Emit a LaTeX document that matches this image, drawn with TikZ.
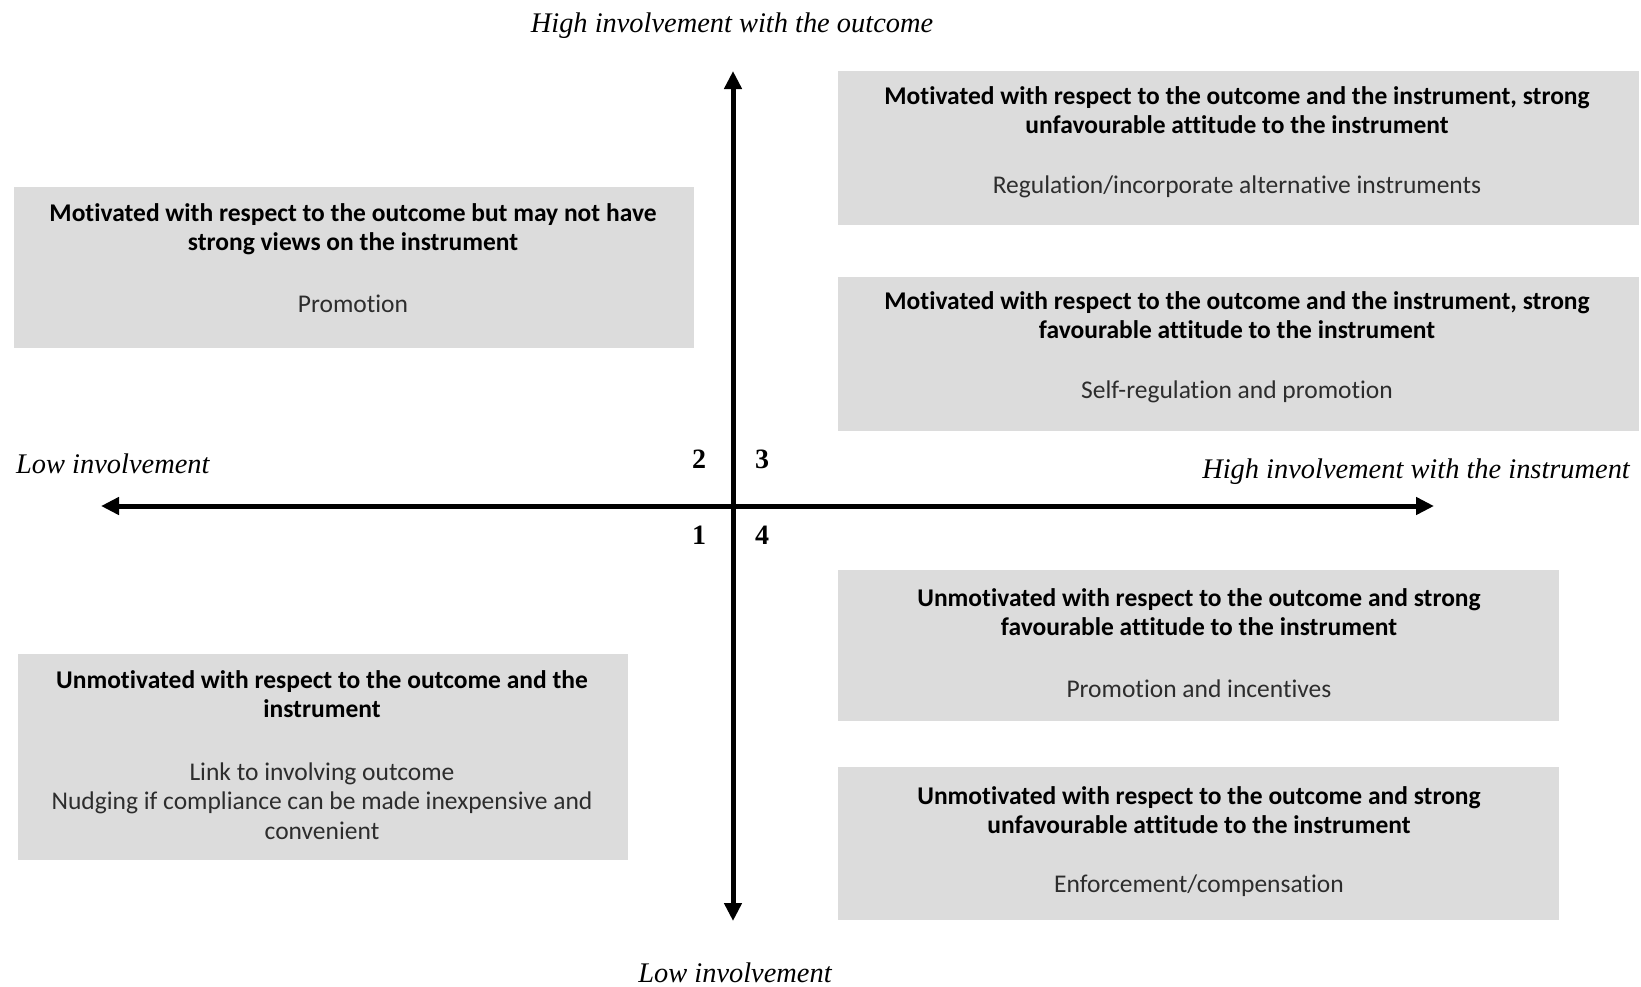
\documentclass[tikz,border=0pt]{standalone}
\usepackage{fontspec}
\setmainfont{Liberation Serif}
\newfontfamily\calfont[Ligatures=NoCommon]{Carlito}
\usetikzlibrary{arrows.meta}
\definecolor{boxgray}{RGB}{220,220,220}
\definecolor{bodytext}{RGB}{45,45,45}
\begin{document}
\begin{tikzpicture}[x=1pt,y=-1pt,
  qbox/.style={fill=boxgray, draw=none},
  head/.style={font=\calfont\bfseries\fontsize{25.5}{29.5}\selectfont, align=center, text=black, inner sep=0pt},
  body/.style={font=\calfont\fontsize{25.5}{29.5}\selectfont, align=center, text=bodytext, inner sep=0pt},
  axislabel/.style={font=\itshape\fontsize{28.4}{32}\selectfont, inner sep=0pt},
  num/.style={font=\bfseries\fontsize{28}{32}\selectfont, inner sep=0pt},
  axis/.style={line width=5pt, {Triangle[width=17pt,length=18pt]}-{Triangle[width=17pt,length=18pt]}}]
\useasboundingbox (0,0) rectangle (1641,986);

% boxes
\fill[qbox] (838,71) rectangle (1639,225);
\fill[qbox] (838,277) rectangle (1639,431);
\fill[qbox] (14,187) rectangle (694,348);
\fill[qbox] (18,654) rectangle (628,860);
\fill[qbox] (838,570) rectangle (1559,721);
\fill[qbox] (838,767) rectangle (1559,920);

% axes
\coordinate (top) at (733,71);
\coordinate (bottom) at (733,921);
\coordinate (left) at (101,506);
\coordinate (right) at (1434,506);
\draw[axis] (left) -- (right);
\draw[axis] (bottom) -- (top);

% axis labels
\node[axislabel] (tlab) at (732,26) {High involvement with the outcome};
\node[axislabel] (blab) at (735,973) {Low involvement};
\node[axislabel, anchor=west] (llab) at (16,464) {Low involvement};
\node[axislabel, anchor=east] (rlab) at (1630,472) {High involvement with the instrument};

% quadrant numbers
\node[num] (n2) at (699,459) {2};
\node[num] (n3) at (762,459) {3};
\node[num] (n1) at (699,535) {1};
\node[num] (n4) at (762,535) {4};

% texts
\node[head] (h3a) at (1237,110) {Motivated with respect to the outcome and  the instrument, strong\\unfavourable attitude to the instrument};
\node[body] (b3a) at (1237,187) {Regulation/incorporate alternative instruments};

\node[head] (h3b) at (1237,315) {Motivated with respect to the outcome and  the instrument, strong\\favourable attitude to the instrument};
\node[body] (b3b) at (1237,392) {Self-regulation and promotion};

\node[head] (h2) at (353,229) {Motivated with respect to the outcome but may not have\\strong views on the instrument};
\node[body] (b2) at (353,304) {Promotion};

\node[head] (h1) at (322,694) {Unmotivated with respect to the outcome and the\\instrument};
\node[body] (b1) at (322,801) {Link to involving outcome\\Nudging if compliance can be made inexpensive and\\convenient};

\node[head] (h4a) at (1199,612) {Unmotivated with respect to the outcome and strong\\favourable attitude to the instrument};
\node[body] (b4a) at (1199,689) {Promotion and incentives};

\node[head] (h4b) at (1199,810) {Unmotivated with respect to the outcome and strong\\unfavourable attitude to the instrument};
\node[body] (b4b) at (1199,886) {Enforcement/compensation};
\end{tikzpicture}
\end{document}
